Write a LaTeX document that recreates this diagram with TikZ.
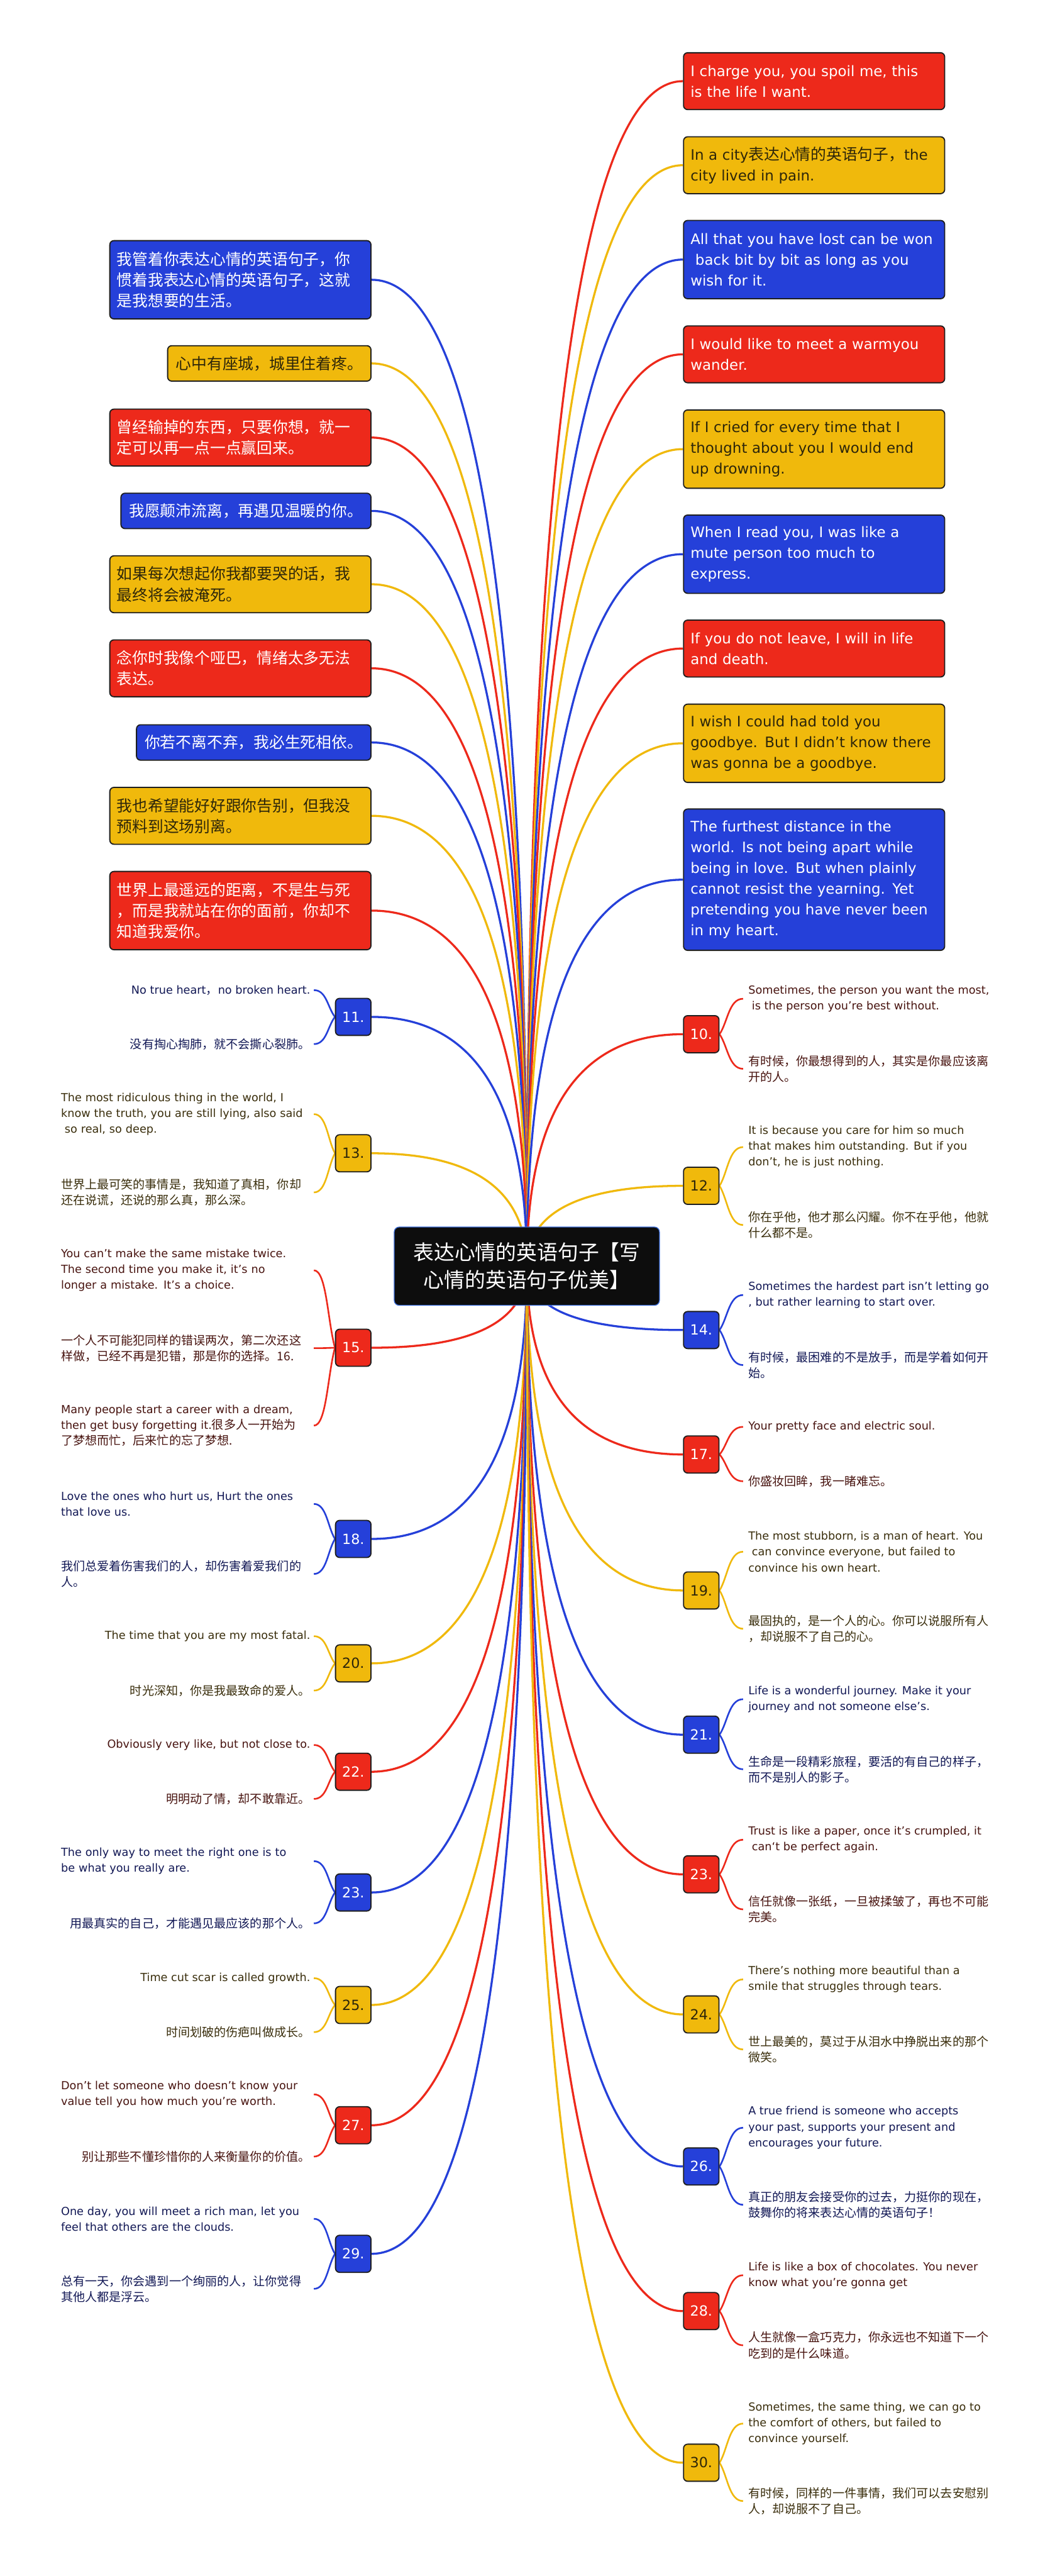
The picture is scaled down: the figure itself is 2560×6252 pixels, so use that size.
\documentclass[tikz,border=0pt]{standalone}
\usepackage{fontspec}
\setmainfont{DejaVu Sans}
\newfontfamily\cjk{Noto Sans CJK SC}[Scale=1.08]
\usetikzlibrary{calc,backgrounds}
\definecolor{cred}{RGB}{237,41,27}
\definecolor{cyel}{RGB}{240,185,12}
\definecolor{cblu}{RGB}{37,64,217}
\definecolor{tred}{RGB}{72,20,16}
\definecolor{tyel}{RGB}{58,46,12}
\definecolor{tblu}{RGB}{18,24,85}
\definecolor{ydark}{RGB}{45,38,10}
\definecolor{edgec}{RGB}{30,30,30}
\definecolor{cborder}{RGB}{60,110,220}
\newcommand\bfnt{\fontsize{8.75pt}{12.6pt}\selectfont}
\newcommand\lfnt{\fontsize{6.75pt}{9.6pt}\selectfont}
\newcommand\nfnt{\fontsize{8.5pt}{10pt}\selectfont}
\begin{document}
\begin{tikzpicture}[x=0.25pt,y=-0.25pt,
  bx/.style={draw=edgec, line width=0.7pt, rounded corners=2.5pt, inner ysep=2pt},
  rbox/.style={bx, anchor=west, text width=150pt, inner xsep=4.25pt, align=left, font=\bfnt},
  lbox/.style={bx, anchor=east, text width=150pt, inner xsep=4.25pt, align=left, font=\bfnt\cjk},
  lbox1/.style={bx, anchor=east, inner xsep=5pt, font=\bfnt\cjk},
  h1/.style={minimum height=21.5pt},
  h2/.style={minimum height=34.5pt},
  h3/.style={minimum height=47.5pt},
  h6/.style={minimum height=85.75pt},
  fr/.style={fill=cred, text=white},
  fy/.style={fill=cyel, text=ydark},
  fb/.style={fill=cblu, text=white},
  numl/.style={bx, anchor=east, minimum height=22.5pt, inner xsep=4pt, font=\nfnt},
  numr/.style={bx, anchor=west, minimum height=22.5pt, inner xsep=4pt, font=\nfnt},
  lleaf/.style={anchor=east, inner xsep=2pt, inner ysep=1pt, font=\lfnt},
  lleafw/.style={lleaf, text width=151.25pt, align=left},
  rleaf/.style={anchor=west, inner xsep=3pt, inner ysep=1pt, align=left, font=\lfnt},
  zl/.style={font=\lfnt\cjk},
  conn/.style={line width=1.25pt, to path={.. controls ($(\tikztostart)!0.6667!(\tikztostart|-\tikztotarget)$) and ($(\tikztotarget)!0.6667!(\tikztostart|-\tikztotarget)$) .. (\tikztotarget)}},
  leafc/.style={line width=1pt, to path={.. controls ($(\tikztostart)!0.35!(\tikztotarget)$) and ($(\tikztotarget)!0.6!(\tikztostart|-\tikztotarget)$) .. (\tikztotarget)}}
]
\useasboundingbox (0,0) rectangle (2560,6252);

% central
\node[fill=black!95, draw=cborder, line width=0.5pt, rounded corners=3pt, text=white,
  font=\fontsize{11.6pt}{16.75pt}\selectfont\cjk, align=center,
  minimum width=161pt, minimum height=47.5pt] (c) at (1279,3073)
  {表达心情的英语句子【写\\心情的英语句子优美】};

% left top boxes
\node[lbox,h3,fb] (L1) at (902,679) {我管着你表达心情的英语句子，你\\惯着我表达心情的英语句子，这就\\是我想要的生活。};
\node[lbox1,h1,fy] (L2) at (902,882) {心中有座城，城里住着疼。};
\node[lbox,h2,fr] (L3) at (902,1062) {曾经输掉的东西，只要你想，就一\\定可以再一点一点赢回来。};
\node[lbox1,h1,fb] (L4) at (902,1240) {我愿颠沛流离，再遇见温暖的你。};
\node[lbox,h2,fy] (L5) at (902,1418) {如果每次想起你我都要哭的话，我\\最终将会被淹死。};
\node[lbox,h2,fr] (L6) at (902,1622) {念你时我像个哑巴，情绪太多无法\\表达。};
\node[lbox1,h1,fb] (L7) at (902,1802) {你若不离不弃，我必生死相依。};
\node[lbox,h2,fy] (L8) at (902,1980) {我也希望能好好跟你告别，但我没\\预料到这场别离。};
\node[lbox,h3,fr] (L9) at (902,2210) {世界上最遥远的距离，不是生与死\\，而是我就站在你的面前，你却不\\知道我爱你。};

% right top boxes
\node[rbox,h2,fr] (R1) at (1658,197) {I charge you, you spoil me, this\\is the life I want.};
\node[rbox,h2,fy] (R2) at (1658,401) {In a city{\cjk 表达心情的英语句子，}the\\city lived in pain.};
\node[rbox,h3,fb] (R3) at (1658,630) {All that you have lost can be won\\\mbox{} back bit by bit as long as you\\wish for it.};
\node[rbox,h2,fr] (R4) at (1658,860) {I would like to meet a warmyou\\wander.};
\node[rbox,h3,fy] (R5) at (1658,1090) {If I cried for every time that I\\thought about you I would end\\up drowning.};
\node[rbox,h3,fb] (R6) at (1658,1345) {When I read you, I was like a\\mute person too much to\\express.};
\node[rbox,h2,fr] (R7) at (1658,1574) {If you do not leave, I will in life\\and death.};
\node[rbox,h3,fy] (R8) at (1658,1804) {I wish I could had told you\\goodbye. But I didn't know there\\was gonna be a goodbye.};
\node[rbox,h6,fb] (R9) at (1658,2135) {The furthest distance in the\\world. Is not being apart while\\being in love. But when plainly\\cannot resist the yearning. Yet\\pretending you have never been\\in my heart.};

% left numbers
\node[numl,fb] (n11) at (902,2468) {11.};
\node[numl,fy] (n13) at (902,2799) {13.};
\node[numl,fr] (n15) at (902,3271) {15.};
\node[numl,fb] (n18) at (902,3735) {18.};
\node[numl,fy] (n20) at (902,4037) {20.};
\node[numl,fr] (n22) at (902,4300) {22.};
\node[numl,fb] (n23l) at (902,4593) {23.};
\node[numl,fy] (n25) at (902,4866) {25.};
\node[numl,fr] (n27) at (902,5158) {27.};
\node[numl,fb] (n29) at (902,5470) {29.};

% right numbers
\node[numr,fr] (n10) at (1658,2510) {10.};
\node[numr,fy] (n12) at (1658,2878) {12.};
\node[numr,fb] (n14) at (1658,3228) {14.};
\node[numr,fr] (n17) at (1658,3530) {17.};
\node[numr,fy] (n19) at (1658,3860) {19.};
\node[numr,fb] (n21) at (1658,4210) {21.};
\node[numr,fr] (n23r) at (1658,4549) {23.};
\node[numr,fy] (n24) at (1658,4889) {24.};
\node[numr,fb] (n26) at (1658,5258) {26.};
\node[numr,fr] (n28) at (1658,5609) {28.};
\node[numr,fy] (n30) at (1658,5977) {30.};

% left leaves
\node[lleaf,text=tblu] (a11) at (762,2403) {No true heart{\cjk ，}no broken heart.};
\node[lleaf,zl,text=tblu] (b11) at (762,2534) {没有掏心掏肺，就不会撕心裂肺。};
\node[lleafw,text=tyel] (a13) at (762,2704) {The most ridiculous thing in the world, I\\know the truth, you are still lying, also said\\\mbox{} so real, so deep.};
\node[lleafw,zl,text=tyel] (b13) at (762,2894) {世界上最可笑的事情是，我知道了真相，你却\\还在说谎，还说的那么真，那么深。};
\node[lleafw,text=tred] (a15) at (762,3083) {You can’t make the same mistake twice.\\The second time you make it, it’s no\\longer a mistake. It’s a choice.};
\node[lleafw,zl,text=tred] (b15) at (762,3272) {一个人不可能犯同样的错误两次，第二次还这\\样做，已经不再是犯错，那是你的选择。16.};
\node[lleafw,text=tred] (c15) at (762,3460) {Many people start a career with a dream,\\then get busy forgetting it.{\cjk 很多人一开始为}\\{\cjk 了梦想而忙，后来忙的忘了梦想.}};
\node[lleafw,text=tblu] (a18) at (762,3650) {Love the ones who hurt us, Hurt the ones\\that love us.};
\node[lleafw,zl,text=tblu] (b18) at (762,3820) {我们总爱着伤害我们的人，却伤害着爱我们的\\人。};
\node[lleaf,text=tyel] (a20) at (762,3971) {The time that you are my most fatal.};
\node[lleaf,zl,text=tyel] (b20) at (762,4103) {时光深知，你是我最致命的爱人。};
\node[lleaf,text=tred] (a22) at (762,4235) {Obviously very like, but not close to.};
\node[lleaf,zl,text=tred] (b22) at (762,4366) {明明动了情，却不敢靠近。};
\node[lleafw,text=tblu] (a23l) at (762,4517) {The only way to meet the right one is to\\be what you really are.};
\node[lleaf,zl,text=tblu] (b23l) at (762,4668) {用最真实的自己，才能遇见最应该的那个人。};
\node[lleaf,text=tyel] (a25) at (762,4801) {Time cut scar is called growth.};
\node[lleaf,zl,text=tyel] (b25) at (762,4932) {时间划破的伤疤叫做成长。};
\node[lleafw,text=tred] (a27) at (762,5083) {Don't let someone who doesn't know your\\value tell you how much you're worth.};
\node[lleaf,zl,text=tred] (b27) at (762,5234) {别让那些不懂珍惜你的人来衡量你的价值。};
\node[lleafw,text=tblu] (a29) at (762,5385) {One day, you will meet a rich man, let you\\feel that others are the clouds.};
\node[lleafw,zl,text=tblu] (b29) at (762,5555) {总有一天，你会遇到一个绚丽的人，让你觉得\\其他人都是浮云。};

% right leaves
\node[rleaf,text=tred] (a10) at (1804,2424) {Sometimes, the person you want the most,\\\mbox{} is the person you're best without.};
\node[rleaf,zl,text=tred] (b10) at (1804,2594) {有时候，你最想得到的人，其实是你最应该离\\开的人。};
\node[rleaf,text=tyel] (a12) at (1804,2784) {It is because you care for him so much\\that makes him outstanding. But if you\\don’t, he is just nothing.};
\node[rleaf,zl,text=tyel] (b12) at (1804,2973) {你在乎他，他才那么闪耀。你不在乎他，他就\\什么都不是。};
\node[rleaf,text=tblu] (a14) at (1804,3143) {Sometimes the hardest part isn't letting go\\, but rather learning to start over.};
\node[rleaf,zl,text=tblu] (b14) at (1804,3313) {有时候，最困难的不是放手，而是学着如何开\\始。};
\node[rleaf,text=tred] (a17) at (1804,3463) {Your pretty face and electric soul.};
\node[rleaf,zl,text=tred] (b17) at (1804,3595) {你盛妆回眸，我一睹难忘。};
\node[rleaf,text=tyel] (a19) at (1804,3766) {The most stubborn, is a man of heart. You\\\mbox{} can convince everyone, but failed to\\convince his own heart.};
\node[rleaf,zl,text=tyel] (b19) at (1804,3953) {最固执的，是一个人的心。你可以说服所有人\\，却说服不了自己的心。};
\node[rleaf,text=tblu] (a21) at (1804,4124) {Life is a wonderful journey. Make it your\\journey and not someone else's.};
\node[rleaf,zl,text=tblu] (b21) at (1804,4294) {生命是一段精彩旅程，要活的有自己的样子，\\而不是别人的影子。};
\node[rleaf,text=tred] (a23r) at (1804,4465) {Trust is like a paper, once it’s crumpled, it\\\mbox{} can‘t be perfect again.};
\node[rleaf,zl,text=tred] (b23r) at (1804,4634) {信任就像一张纸，一旦被揉皱了，再也不可能\\完美。};
\node[rleaf,text=tyel] (a24) at (1804,4804) {There's nothing more beautiful than a\\smile that struggles through tears.};
\node[rleaf,zl,text=tyel] (b24) at (1804,4974) {世上最美的，莫过于从泪水中挣脱出来的那个\\微笑。};
\node[rleaf,text=tblu] (a26) at (1804,5164) {A true friend is someone who accepts\\your past, supports your present and\\encourages your future.};
\node[rleaf,zl,text=tblu] (b26) at (1804,5351) {真正的朋友会接受你的过去，力挺你的现在，\\鼓舞你的将来表达心情的英语句子！};
\node[rleaf,text=tred] (a28) at (1804,5522) {Life is like a box of chocolates. You never\\know what you're gonna get};
\node[rleaf,zl,text=tred] (b28) at (1804,5692) {人生就像一盒巧克力，你永远也不知道下一个\\吃到的是什么味道。};
\node[rleaf,text=tyel] (a30) at (1804,5882) {Sometimes, the same thing, we can go to\\the comfort of others, but failed to\\convince yourself.};
\node[rleaf,zl,text=tyel] (b30) at (1804,6070) {有时候，同样的一件事情，我们可以去安慰别\\人，却说服不了自己。};

\begin{scope}[on background layer]
\fill[white] (0,0) rectangle (2560,6252);
% main connectors left boxes
\draw[conn,cblu] (c.center) to (L1.east);
\draw[conn,cyel] (c.center) to (L2.east);
\draw[conn,cred] (c.center) to (L3.east);
\draw[conn,cblu] (c.center) to (L4.east);
\draw[conn,cyel] (c.center) to (L5.east);
\draw[conn,cred] (c.center) to (L6.east);
\draw[conn,cblu] (c.center) to (L7.east);
\draw[conn,cyel] (c.center) to (L8.east);
\draw[conn,cred] (c.center) to (L9.east);
% right boxes
\draw[conn,cred] (c.center) to (R1.west);
\draw[conn,cyel] (c.center) to (R2.west);
\draw[conn,cblu] (c.center) to (R3.west);
\draw[conn,cred] (c.center) to (R4.west);
\draw[conn,cyel] (c.center) to (R5.west);
\draw[conn,cblu] (c.center) to (R6.west);
\draw[conn,cred] (c.center) to (R7.west);
\draw[conn,cyel] (c.center) to (R8.west);
\draw[conn,cblu] (c.center) to (R9.west);
% left numbers
\draw[conn,cblu] (c.center) to (n11.east);
\draw[conn,cyel] (c.center) to (n13.east);
\draw[conn,cred] (c.center) to (n15.east);
\draw[conn,cblu] (c.center) to (n18.east);
\draw[conn,cyel] (c.center) to (n20.east);
\draw[conn,cred] (c.center) to (n22.east);
\draw[conn,cblu] (c.center) to (n23l.east);
\draw[conn,cyel] (c.center) to (n25.east);
\draw[conn,cred] (c.center) to (n27.east);
\draw[conn,cblu] (c.center) to (n29.east);
% right numbers
\draw[conn,cred] (c.center) to (n10.west);
\draw[conn,cyel] (c.center) to (n12.west);
\draw[conn,cblu] (c.center) to (n14.west);
\draw[conn,cred] (c.center) to (n17.west);
\draw[conn,cyel] (c.center) to (n19.west);
\draw[conn,cblu] (c.center) to (n21.west);
\draw[conn,cred] (c.center) to (n23r.west);
\draw[conn,cyel] (c.center) to (n24.west);
\draw[conn,cblu] (c.center) to (n26.west);
\draw[conn,cred] (c.center) to (n28.west);
\draw[conn,cyel] (c.center) to (n30.west);
% leaf connectors left
\draw[leafc,cblu] (n11.west) to (a11.east);
\draw[leafc,cblu] (n11.west) to (b11.east);
\draw[leafc,cyel] (n13.west) to (a13.east);
\draw[leafc,cyel] (n13.west) to (b13.east);
\draw[leafc,cred] (n15.west) to (a15.east);
\draw[leafc,cred] (n15.west) to (b15.east);
\draw[leafc,cred] (n15.west) to (c15.east);
\draw[leafc,cblu] (n18.west) to (a18.east);
\draw[leafc,cblu] (n18.west) to (b18.east);
\draw[leafc,cyel] (n20.west) to (a20.east);
\draw[leafc,cyel] (n20.west) to (b20.east);
\draw[leafc,cred] (n22.west) to (a22.east);
\draw[leafc,cred] (n22.west) to (b22.east);
\draw[leafc,cblu] (n23l.west) to (a23l.east);
\draw[leafc,cblu] (n23l.west) to (b23l.east);
\draw[leafc,cyel] (n25.west) to (a25.east);
\draw[leafc,cyel] (n25.west) to (b25.east);
\draw[leafc,cred] (n27.west) to (a27.east);
\draw[leafc,cred] (n27.west) to (b27.east);
\draw[leafc,cblu] (n29.west) to (a29.east);
\draw[leafc,cblu] (n29.west) to (b29.east);
% leaf connectors right
\draw[leafc,cred] (n10.east) to (a10.west);
\draw[leafc,cred] (n10.east) to (b10.west);
\draw[leafc,cyel] (n12.east) to (a12.west);
\draw[leafc,cyel] (n12.east) to (b12.west);
\draw[leafc,cblu] (n14.east) to (a14.west);
\draw[leafc,cblu] (n14.east) to (b14.west);
\draw[leafc,cred] (n17.east) to (a17.west);
\draw[leafc,cred] (n17.east) to (b17.west);
\draw[leafc,cyel] (n19.east) to (a19.west);
\draw[leafc,cyel] (n19.east) to (b19.west);
\draw[leafc,cblu] (n21.east) to (a21.west);
\draw[leafc,cblu] (n21.east) to (b21.west);
\draw[leafc,cred] (n23r.east) to (a23r.west);
\draw[leafc,cred] (n23r.east) to (b23r.west);
\draw[leafc,cyel] (n24.east) to (a24.west);
\draw[leafc,cyel] (n24.east) to (b24.west);
\draw[leafc,cblu] (n26.east) to (a26.west);
\draw[leafc,cblu] (n26.east) to (b26.west);
\draw[leafc,cred] (n28.east) to (a28.west);
\draw[leafc,cred] (n28.east) to (b28.west);
\draw[leafc,cyel] (n30.east) to (a30.west);
\draw[leafc,cyel] (n30.east) to (b30.west);
\end{scope}
\end{tikzpicture}
\end{document}
